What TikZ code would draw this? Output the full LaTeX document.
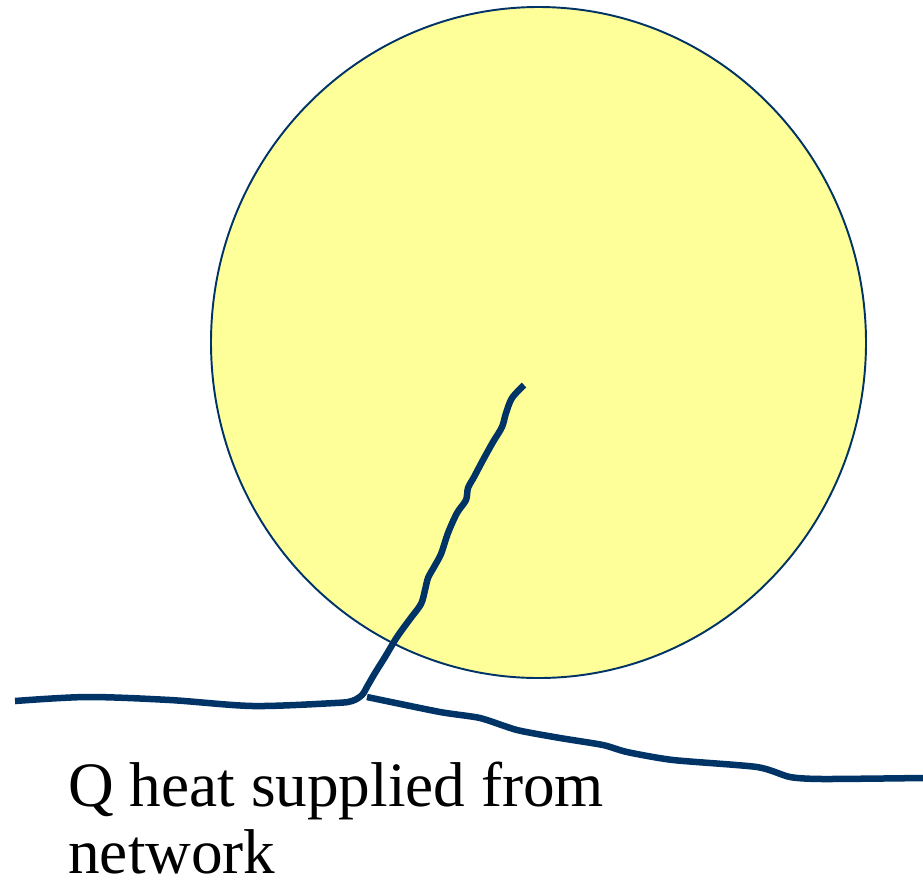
\documentclass[tikz,border=0pt]{standalone}
\usepackage{fontspec}
\setmainfont{Liberation Serif}
\usepackage{tikz}
\definecolor{pipeblue}{HTML}{003366}
\definecolor{ballyellow}{HTML}{FFFF99}

\begin{document}
\begin{tikzpicture}[
      x=0.02cm, y=-0.02cm,
      ball/.style={draw=pipeblue, fill=ballyellow, line width=1.1pt},
      pipe/.style={draw=pipeblue, line width=3.7pt, line join=round},
      heatlabel/.style={font=\fontsize{36}{37.6}\selectfont, align=left, inner sep=0pt}
  ]
    \useasboundingbox (0,0) rectangle (923,887);

    % the body
    \draw[ball] (538.5,342.5) ellipse [x radius=327.5, y radius=335.5];

    \coordinate (tip) at (524,385);
    \coordinate (junction) at (367,697);
    \coordinate (leftend) at (15,701);
    \coordinate (rightend) at (923,778);

    % supply line and branch into the body
    \draw[pipe] plot[smooth, tension=0.5] coordinates {(leftend) (87,697) (170,700) (253,706)
      (335,703) (352,701) (362,695) (368,685) (375,673) (385,657) (397,637) (410,619)
      (421,604) (425,590) (428,578) (434,567) (441,554) (448,533) (457,513) (466,500)
      (468,488) (474,477) (483,460) (493,442) (502,427) (506,413) (512,398) (tip)};

    % network line
    \draw[pipe] plot[smooth, tension=0.4] coordinates {(junction) (440,712) (480,718)
      (517,730) (560,738) (603,745) (627,752) (673,760) (757,767) (790,777) (823,779) (rightend)};

    \node[heatlabel, anchor=base west] (heat) at (68,873) {Q heat supplied from\\network};
  \end{tikzpicture}
\end{document}
